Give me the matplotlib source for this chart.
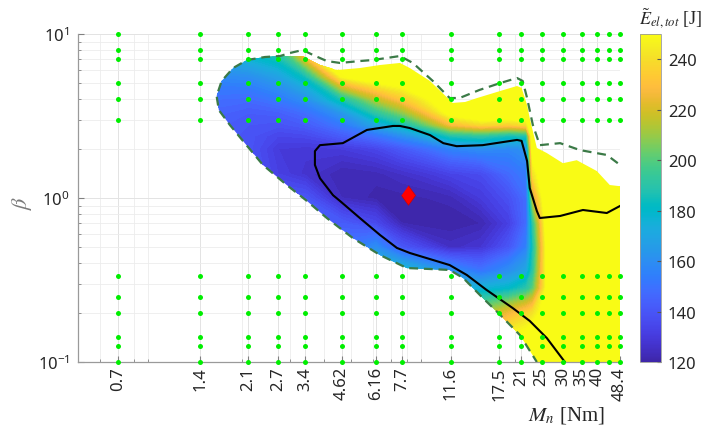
import numpy as np
import matplotlib
matplotlib.use("Agg")
import matplotlib.pyplot as plt
from matplotlib.colors import LinearSegmentedColormap, Normalize
from matplotlib.cm import ScalarMappable
from matplotlib.patches import Polygon
from matplotlib.ticker import FixedLocator, LogLocator, NullFormatter

plt.rcParams['font.family'] = ['Noto Sans', 'DejaVu Sans']
plt.rcParams['mathtext.fontset'] = 'stix'

# ---- data ----
# nodes of the estimated energy surface
mn_nodes = [1.55, 2.1, 2.7, 3.4, 4.62, 6.16, 7.7, 11.6, 15, 19, 22.0, 23.2, 26, 48.4]
beta_nodes = [0.1, 0.14, 0.2, 0.28, 0.36, 0.5, 0.7, 1.0, 1.4, 2.0, 2.4, 2.8, 3.3, 4.0, 5.5, 8.5]
E_rows = [
    [142, 142, 142, 142, 150, 175, 190, 180, 230, 260, 262, 265, 265, 265],
    [142, 142, 142, 142, 150, 175, 190, 180, 230, 250, 255, 260, 262, 265],
    [142, 142, 142, 142, 150, 175, 190, 180, 210, 225, 235, 240, 258, 265],
    [142, 142, 142, 142, 150, 175, 190, 175, 175, 180, 190, 200, 250, 265],
    [142, 142, 142, 142, 150, 180, 180, 160, 150, 160, 170, 190, 250, 265],
    [142, 142, 142, 142, 150, 160, 140, 125, 128, 140, 155, 185, 250, 265],
    [142, 142, 142, 142, 142, 135, 122, 120, 122, 132, 148, 190, 255, 265],
    [145, 140, 140, 140, 124, 121, 121, 123, 130, 138, 148, 215, 262, 265],
    [143, 140, 132, 127, 122, 123, 126, 133, 136, 147, 153, 240, 265, 265],
    [142, 139, 130, 129, 130, 134, 141, 156, 160, 158, 162, 260, 265, 265],
    [142, 139, 134, 135, 142, 150, 160, 188, 192, 185, 188, 265, 265, 265],
    [143, 140, 139, 142, 152, 170, 184, 228, 238, 235, 240, 265, 265, 265],
    [145, 142, 143, 148, 163, 190, 207, 255, 265, 265, 265, 265, 265, 265],
    [148, 147, 152, 160, 186, 215, 232, 265, 265, 265, 265, 265, 265, 265],
    [158, 160, 168, 184, 248, 262, 265, 265, 265, 265, 265, 265, 265, 265],
    [180, 190, 200, 258, 265, 265, 265, 265, 265, 265, 265, 265, 265, 265],
]

# outline of the evaluated (coloured) region
region_mn = [24.0, 20.8, 17.6, 15.2, 12.9, 11.5, 9.74, 8.02, 6.39, 5.08, 4.08, 3.45,
             2.91, 2.38, 2.01, 1.80, 1.64, 1.61, 1.68, 1.85, 2.08, 2.42, 2.75, 3.33,
             3.54, 3.85, 4.44, 5.39, 6.39, 7.56, 8.22, 9.74, 11.8, 13.1, 14.5, 17.6,
             20.3, 21.1, 22.1, 22.6, 24.0, 26.1, 29.9, 33.6, 39.8, 44.4, 48.4, 48.4]
region_beta = [0.1, 0.146, 0.194, 0.246, 0.325, 0.364, 0.369, 0.374, 0.449, 0.570, 0.755, 0.959,
               1.20, 1.59, 2.23, 2.79, 3.44, 4.19, 5.17, 6.20, 6.94, 7.24, 7.34, 7.34,
               6.94, 6.47, 6.03, 6.20, 6.47, 6.66, 6.20, 5.17, 3.80, 3.85, 4.07, 4.49,
               4.82, 4.69, 3.69, 3.07, 2.02, 1.88, 1.63, 1.70, 1.46, 1.20, 1.18, 0.1]

# dashed feasibility border
dash_mn = [47.5, 43.3, 34.5, 29.2, 24.6, 23.2, 22.1, 21.3, 20.3, 17.6, 14.8, 12.5, 11.5,
           9.98, 8.43, 7.56, 6.02, 5.39, 4.56, 4.08, 3.63, 3.33, 2.99, 2.75, 2.42, 2.08,
           1.85, 1.68, 1.61, 1.64, 1.80, 2.01, 2.38, 2.91, 3.45, 4.08, 5.08, 6.39, 8.02,
           9.74, 11.5, 12.9, 15.2, 17.6, 20.8, 24.0]
dash_beta = [1.63, 1.83, 1.96, 2.16, 2.10, 2.79, 4.07, 5.17, 5.39, 5.02, 4.56, 4.07, 4.07,
             5.17, 6.66, 7.34, 6.94, 6.84, 6.66, 6.84, 7.45, 7.99, 7.66, 7.34, 7.24, 6.94,
             6.20, 5.17, 4.19, 3.44, 2.79, 2.23, 1.59, 1.20, 0.959, 0.755, 0.570, 0.449, 0.374,
             0.369, 0.364, 0.325, 0.246, 0.194, 0.146, 0.1]

# black line
black_mn = [48.4, 43.3, 35.4, 29.2, 24.6, 24.0, 23.2, 22.6, 22.1, 21.1, 20.3, 15.2, 12.2,
            10.9, 9.74, 8.22, 7.56, 7.13, 5.72, 4.67, 3.85, 3.69, 3.69, 3.85, 4.30, 4.56,
            5.39, 6.39, 7.37, 8.22, 9.98, 11.5, 13.3, 15.7, 19.6, 22.6, 26.1, 30.4]
black_beta = [0.894, 0.810, 0.845, 0.777, 0.755, 0.833, 1.0, 1.15, 1.68, 2.23, 2.26, 2.10, 2.07,
              2.16, 2.42, 2.67, 2.75, 2.75, 2.60, 2.16, 2.10, 1.93, 1.59, 1.32, 1.04, 0.959,
              0.755, 0.595, 0.496, 0.462, 0.419, 0.390, 0.339, 0.275, 0.213, 0.178, 0.140, 0.1]

# sampled grid points
dot_mn = [0.7, 1.4, 2.1, 2.7, 3.4, 4.62, 6.16, 7.7, 11.6, 17.5, 21, 25, 30, 35, 40, 44, 48.4]
dot_beta = [0.1, 0.125, 0.1429, 0.2, 0.25, 0.3333, 3, 4, 5, 7, 8, 10]

opt_mn, opt_beta = 8.1, 1.04

xtick_vals = [0.7, 1.4, 2.1, 2.7, 3.4, 4.62, 6.16, 7.7, 11.6, 17.5, 21, 25, 30, 35, 40, 48.4]
xtick_labels = ['0.7', '1.4', '2.1', '2.7', '3.4', '4.62', '6.16', '7.7', '11.6', '17.5',
                '21', '25', '30', '35', '40', '48.4']
cbar_ticks = [120, 140, 160, 180, 200, 220, 240]

# parula colormap
parula_rgb = [
    [0.2422, 0.1504, 0.6603], [0.2504, 0.1650, 0.7076], [0.2578, 0.1818, 0.7511],
    [0.2647, 0.1978, 0.7952], [0.2706, 0.2147, 0.8364], [0.2751, 0.2342, 0.8710],
    [0.2783, 0.2559, 0.8991], [0.2803, 0.2782, 0.9221], [0.2813, 0.3006, 0.9414],
    [0.2810, 0.3228, 0.9579], [0.2795, 0.3447, 0.9717], [0.2760, 0.3667, 0.9829],
    [0.2699, 0.3892, 0.9906], [0.2602, 0.4123, 0.9952], [0.2440, 0.4358, 0.9988],
    [0.2206, 0.4603, 0.9973], [0.1963, 0.4847, 0.9892], [0.1834, 0.5074, 0.9798],
    [0.1786, 0.5289, 0.9682], [0.1764, 0.5499, 0.9520], [0.1687, 0.5703, 0.9359],
    [0.1540, 0.5902, 0.9218], [0.1460, 0.6091, 0.9079], [0.1380, 0.6276, 0.8973],
    [0.1248, 0.6459, 0.8883], [0.1113, 0.6635, 0.8763], [0.0952, 0.6798, 0.8598],
    [0.0689, 0.6948, 0.8394], [0.0297, 0.7082, 0.8163], [0.0036, 0.7203, 0.7917],
    [0.0067, 0.7312, 0.7660], [0.0433, 0.7411, 0.7394], [0.0964, 0.7500, 0.7120],
    [0.1408, 0.7584, 0.6842], [0.1717, 0.7670, 0.6554], [0.1938, 0.7758, 0.6251],
    [0.2161, 0.7843, 0.5923], [0.2470, 0.7918, 0.5567], [0.2906, 0.7973, 0.5188],
    [0.3406, 0.8008, 0.4789], [0.3909, 0.8029, 0.4354], [0.4456, 0.8024, 0.3909],
    [0.5044, 0.7993, 0.3480], [0.5616, 0.7942, 0.3045], [0.6174, 0.7876, 0.2612],
    [0.6720, 0.7793, 0.2227], [0.7242, 0.7698, 0.1910], [0.7738, 0.7598, 0.1646],
    [0.8203, 0.7498, 0.1535], [0.8634, 0.7406, 0.1596], [0.9035, 0.7330, 0.1774],
    [0.9393, 0.7288, 0.2100], [0.9728, 0.7298, 0.2394], [0.9956, 0.7434, 0.2371],
    [0.9970, 0.7659, 0.2199], [0.9952, 0.7893, 0.2028], [0.9892, 0.8136, 0.1885],
    [0.9786, 0.8386, 0.1766], [0.9676, 0.8639, 0.1643], [0.9610, 0.8890, 0.1537],
    [0.9597, 0.9135, 0.1423], [0.9628, 0.9373, 0.1265], [0.9691, 0.9606, 0.1064],
    [0.9769, 0.9839, 0.0805]]
parula = LinearSegmentedColormap.from_list('parula', parula_rgb, N=256)
norm = Normalize(vmin=120, vmax=250)

W, H = 717, 435
fig = plt.figure(figsize=(W / 100, H / 100), dpi=100)
ax = fig.add_axes([78 / W, 1 - 363 / H, 542 / W, 328 / H])
cax = fig.add_axes([640 / W, 1 - 363 / H, 21 / W, 328 / H])

ax.set_xscale('log')
ax.set_yscale('log')
ax.set_xlim(0.5, 48.4)
ax.set_ylim(0.1, 10)

# surface
M, B = np.meshgrid(mn_nodes, beta_nodes)
E = np.array(E_rows, dtype=float)
cs = ax.contourf(M, B, E, levels=np.arange(120, 252, 2), cmap=parula, norm=norm,
                 extend='both', zorder=1)
cs.set_edgecolor('face')
cs.set_linewidth(0.4)
clip = Polygon(list(zip(region_mn, region_beta)), closed=True, transform=ax.transData,
               facecolor='none', edgecolor='none')
cs.set_clip_path(clip)

ax.plot(dash_mn, dash_beta, color='#3b7a47', lw=1.6, ls=(0, (4, 2.6)), zorder=3)
ax.plot(black_mn, black_beta, color='black', lw=1.5, zorder=4)

DM, DB = np.meshgrid(dot_mn, dot_beta)
ax.plot(DM.ravel(), DB.ravel(), 'o', color='#00ee00', ms=3.6, mec='none',
        zorder=5, clip_on=False)

diamond = [(0, 1), (0.72, 0), (0, -1), (-0.72, 0)]
ax.plot([opt_mn], [opt_beta], marker=diamond, ms=14, color='#ff0000',
        mec='#d00000', mew=0.5, ls='none', zorder=6)

# axes styling
ax.set_axisbelow(True)
ax.xaxis.set_major_locator(FixedLocator(xtick_vals))
ax.set_xticklabels(xtick_labels, rotation=90)
ax.xaxis.set_minor_locator(LogLocator(base=10, subs=np.arange(2, 10)))
ax.xaxis.set_minor_formatter(NullFormatter())
ax.yaxis.set_major_locator(FixedLocator([0.1, 1, 10]))
ax.yaxis.set_minor_locator(LogLocator(base=10, subs=np.arange(2, 10)))
ax.yaxis.set_minor_formatter(NullFormatter())
ax.grid(True, which='major', color='#e3e3e3', lw=0.7)
ax.grid(True, which='minor', color='#ececec', lw=0.6)
ax.tick_params(which='both', direction='in', color='#808080', labelcolor='#262626',
               labelsize=12)
ax.tick_params(which='major', length=4)
ax.tick_params(which='minor', length=2)
ax.tick_params(axis='x', pad=3)
ax.tick_params(axis='y', pad=6)
for s in ['top', 'right']:
    ax.spines[s].set_visible(False)
for s in ['left', 'bottom']:
    ax.spines[s].set_color('#9a9a9a')
    ax.spines[s].set_linewidth(0.9)

cb = fig.colorbar(ScalarMappable(norm=norm, cmap=parula), cax=cax, ticks=cbar_ticks)
cb.outline.set_edgecolor('#9a9a9a')
cb.outline.set_linewidth(0.6)
cax.tick_params(direction='in', length=3, color='#555555', labelcolor='#262626',
                labelsize=12, pad=5)
cax.minorticks_off()

fig.text(22 / W, 1 - 203 / H, r'$\beta$', rotation=90, ha='center', va='center',
         fontsize=16, color='#7a7a7a')
fig.text(566 / W, 1 - 416 / H, r'$M_n$ [Nm]', ha='center', va='center', fontsize=15,
         color='#262626', family='Liberation Serif')
fig.text(639 / W, 1 - 19 / H, r'$\tilde{E}_{el,tot}$ [J]', ha='left', va='center',
         fontsize=13, color='#262626', family='Liberation Serif')

fig.savefig('out.png', dpi=100)
